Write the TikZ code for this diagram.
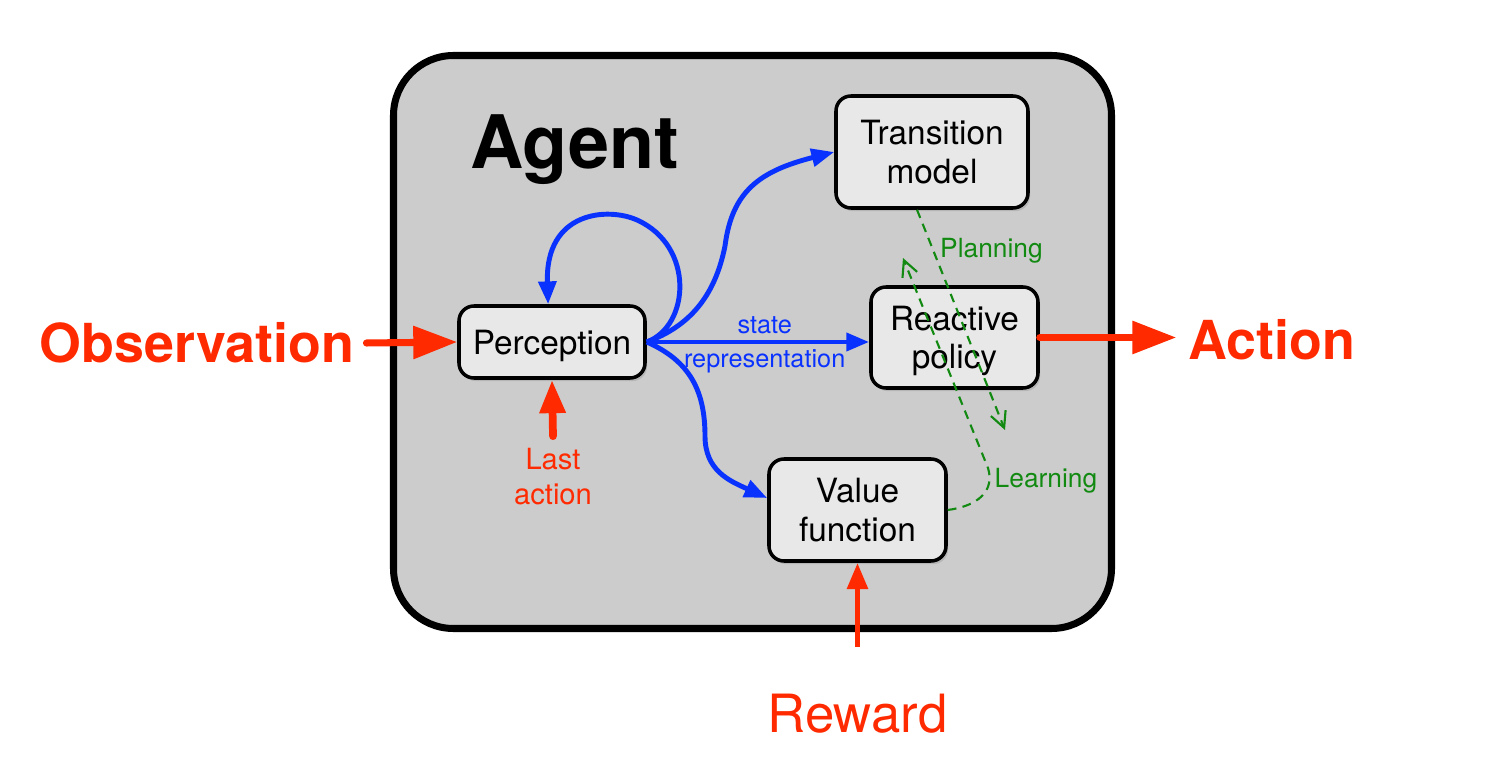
\documentclass[tikz,border=0pt]{standalone}
\usepackage{fontspec}
\setmainfont{TeX Gyre Heros}
\usetikzlibrary{arrows.meta,positioning,shadows}
\definecolor{obsred}{HTML}{FF2A00}
\definecolor{flowblue}{HTML}{0A32FF}
\definecolor{plangreen}{HTML}{128A12}
\definecolor{agentgray}{HTML}{CCCCCC}
\definecolor{boxgray}{HTML}{E8E8E8}

\begin{document}
\begin{tikzpicture}[
    block/.style={draw=black, line width=1pt, fill=boxgray, rounded corners=0.15cm, align=center,
        font=\fontsize{9.5}{11}\selectfont, text depth=0pt,
        drop shadow={shadow xshift=0.6pt, shadow yshift=-0.9pt, opacity=0.3}},
    bigarrow/.style={draw=obsred, line width=2pt, line cap=round, -{Triangle[length=12.5pt,width=9pt]}},
    smallarrow/.style={draw=obsred, line width=2.2pt, line cap=round, -{Triangle[length=9.5pt,width=7pt]}},
    rewarrow/.style={draw=obsred, line width=1.6pt, -{Triangle[length=7.5pt,width=5.7pt]}},
    flow/.style={draw=flowblue, line width=1.4pt, -{Triangle[length=6.5pt,width=5pt]}},
    dashlink/.style={draw=plangreen, line width=0.6pt, dash pattern=on 2.5pt off 1.8pt,
        -{Straight Barb[length=4.5pt,width=4.5pt]}},
    biglabel/.style={text=obsred, font=\fontsize{15.3}{18}\selectfont\bfseries},
    smalltext/.style={font=\fontsize{7.2}{8.6}\selectfont, inner sep=1.5pt},
    greentext/.style={text=plangreen, font=\fontsize{7.5}{9}\selectfont}
]
\useasboundingbox (0,0) rectangle (14.97,7.76);

% agent frame
\node[draw=black, line width=2pt, fill=agentgray, rounded corners=0.6cm,
      minimum width=7.18cm, minimum height=5.73cm] (agent) at (7.525,4.34) {};
\node[font=\fontsize{21}{25}\selectfont\bfseries] (title) at (5.75,6.265) {Agent};

% modules
\node[block, minimum width=1.86cm, minimum height=0.72cm] (perc) at (5.52,4.34) {Perception};
\node[block, minimum width=1.92cm, minimum height=1.12cm] (trans) at (9.32,6.24) {Transition\\model};
\node[block, minimum width=1.67cm, minimum height=1.01cm] (react) at (9.545,4.385) {Reactive\\policy};
\node[block, minimum width=1.77cm, minimum height=1.02cm] (value) at (8.575,2.66) {Value\\function};

% inputs and output
\node[biglabel] (obs) at (1.97,4.33) {Observation};
\node[biglabel] (act) at (12.72,4.36) {Action};
\node[text=obsred, font=\fontsize{15}{18}\selectfont] (rew) at (8.575,0.62) {Reward};
\node[text=obsred, align=center, font=\fontsize{8.3}{10}\selectfont] (last) at (5.53,2.99) {Last\\action};

\draw[bigarrow] (obs.east) -- (perc.west);
\draw[bigarrow] (react.east) -- (react.east -| act.west);
\draw[smallarrow] (last.north) -- (perc.south);
\draw[rewarrow] ([yshift=10pt]rew.north) -- (value.south);

% state representation
\draw[flow] (perc.east) -- node[pos=0.53, above, smalltext, text=flowblue] {state}
    node[pos=0.53, below, smalltext, text=flowblue] {representation} (perc.east -| react.west);
\draw[flow] (perc.east) .. controls (6.9,4.5) and (7.15,4.8) .. (7.25,5.3)
    .. controls (7.32,5.85) and (7.6,6.05) .. (trans.west);
\draw[flow] (perc.east) .. controls (6.9,4.15) and (7.05,3.85) .. (7.05,3.4)
    .. controls (7.05,3.05) and (7.3,2.95) .. ([yshift=3.4pt]value.west);
\draw[flow] (perc.east) .. controls (6.9,4.5) and (6.95,5.3) .. (6.37,5.56)
    .. controls (6.08,5.69) and (5.45,5.65) .. ([xshift=-1.1pt]perc.north);

% planning and learning
\coordinate (plantip) at (10.05,3.46);
\coordinate (learntip) at (9.03,5.18);
\draw[dashlink] ([xshift=-0.15cm]trans.south) -- (plantip);
\draw[dashlink] (value.east) .. controls (9.78,2.7) and (9.95,2.85) .. (9.88,3.08) -- (learntip);
\node[greentext] (plan) at (9.915,5.255) {Planning};
\node[greentext] (learn) at (10.46,2.955) {Learning};

\end{tikzpicture}
\end{document}
